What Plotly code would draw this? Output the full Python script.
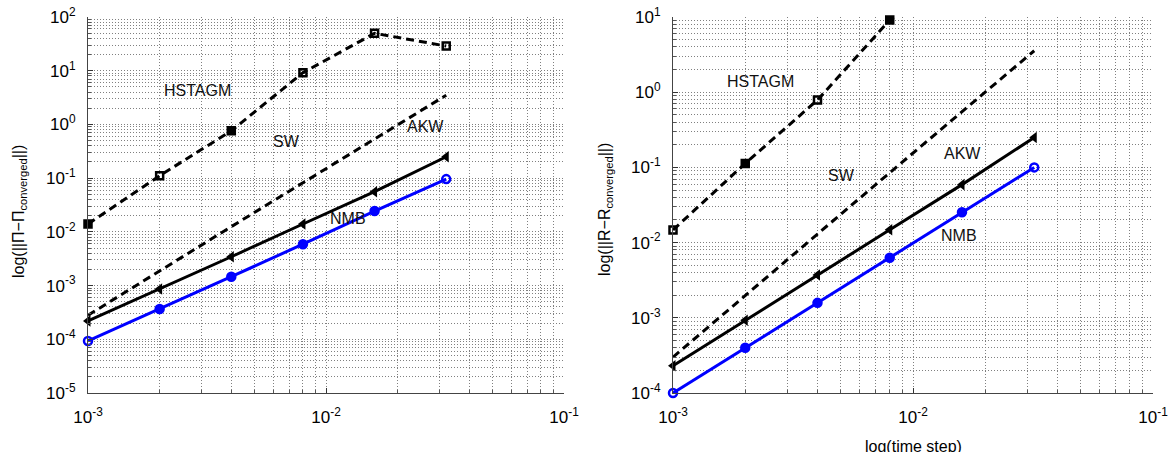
import numpy as np
import plotly.graph_objects as go

# ---------------- data ----------------
time_step = [0.001, 0.002, 0.004, 0.008, 0.016, 0.032]

hstagm = [0.014, 0.111, 0.76, 9.2, 49.7, 28.8]
sw = [2.8e-4, 1.9e-3, 1.25e-2, 8.2e-2, 0.53, 3.5]
akw_pi = [2.2e-4, 8.6e-4, 3.44e-3, 0.014, 0.056, 0.25]
nmb_pi = [9.3e-5, 3.65e-4, 1.46e-3, 5.9e-3, 0.0244, 0.096]

hstagm_r = [0.0147, 0.113, 0.787, 9.1, 49.7, 28.8]
sw_r = [3.0e-4, 1.95e-3, 1.3e-2, 8.5e-2, 0.55, 3.56]
akw_r = [2.3e-4, 9.3e-4, 3.7e-3, 0.0148, 0.059, 0.25]
nmb_r = [1.0e-4, 4.0e-4, 1.58e-3, 6.3e-3, 0.0253, 0.10]

series_names = ["HSTAGM", "SW", "AKW", "NMB"]

x_exponents = [-3, -2, -1]
y_exponents_left = [-5, -4, -3, -2, -1, 0, 1, 2]
y_exponents_right = [-4, -3, -2, -1, 0, 1]

# label positions (log10 data coordinates)
labels_left = {"HSTAGM": (-2.538, 0.641), "SW": (-2.164, -0.309),
               "AKW": (-1.584, -0.03), "NMB": (-1.908, -1.743)}
labels_right = {"HSTAGM": (-2.6375, 0.149), "SW": (-2.296, -1.101),
                "AKW": (-1.792, -0.809), "NMB": (-1.808, -1.899)}

# ---------------- styling ----------------
FONT = "Liberation Sans, Arial, Helvetica, sans-serif"
W, H = 1175, 452
BLUE = "#0000ff"
DASH = "8px,5px"
GRIDC = "#808080"

sq_left = ["square", "square-open", "square", "square-open", "square-open", "square-open"]
sq_right = ["square-open", "square", "square-open", "square", "square", "square"]
circ_sym = ["circle-open", "circle", "circle", "circle", "circle", "circle-open"]

fig = go.Figure()

def add_panel(xa, ya, h, s, a, n, sq_sym):
    fig.add_trace(go.Scatter(x=time_step, y=h, xaxis=xa, yaxis=ya, mode="lines+markers",
                             line=dict(color="black", width=3, dash=DASH),
                             marker=dict(symbol=sq_sym, size=7, color="black",
                                         line=dict(color="black", width=2.5)),
                             cliponaxis=False, showlegend=False))
    fig.add_trace(go.Scatter(x=time_step, y=s, xaxis=xa, yaxis=ya, mode="lines",
                             line=dict(color="black", width=3, dash=DASH),
                             showlegend=False))
    fig.add_trace(go.Scatter(x=time_step, y=a, xaxis=xa, yaxis=ya, mode="lines+markers",
                             line=dict(color="black", width=3),
                             marker=dict(symbol="triangle-left", size=10, color="black"),
                             cliponaxis=False, showlegend=False))
    fig.add_trace(go.Scatter(x=time_step, y=n, xaxis=xa, yaxis=ya, mode="lines+markers",
                             line=dict(color=BLUE, width=3),
                             marker=dict(symbol=circ_sym, size=8, color=BLUE,
                                         line=dict(color=BLUE, width=2.5)),
                             cliponaxis=False, showlegend=False))

add_panel("x", "y", hstagm, sw, akw_pi, nmb_pi, sq_left)
add_panel("x2", "y2", hstagm_r, sw_r, akw_r, nmb_r, sq_right)

def sup_text(e):
    return "10<sup>%d</sup>" % e

def minor_vals(lo, hi):
    vals = []
    for e in range(lo, hi):
        for m in range(2, 10):
            vals.append(m * 10.0 ** e)
    return vals

def axis_common(exps, domain, lo, hi):
    return dict(type="log", range=[lo, hi], domain=domain, automargin=False,
                tickmode="array", tickvals=[10.0 ** e for e in exps],
                ticktext=[sup_text(e) for e in exps],
                ticks="inside", ticklen=5, tickcolor="#333",
                showline=True, linecolor="#444", linewidth=1,
                tickfont=dict(family=FONT, size=17, color="black"),
                zeroline=False,
                showgrid=True, gridcolor=GRIDC, griddash="1px,2px", gridwidth=1,
                minor=dict(tickmode="array", tickvals=minor_vals(lo, hi),
                           ticks="inside", ticklen=3, tickcolor="#555",
                           showgrid=True, gridcolor=GRIDC, griddash="1px,2px", gridwidth=1))

ydom = [1 - 393 / H, 1 - 17 / H]
fig.update_layout(
    xaxis=dict(axis_common(x_exponents, [88 / W, 564 / W], -3, -1),
               anchor="y", ticklabelstandoff=9),
    yaxis=dict(axis_common(y_exponents_left, ydom, -5, 2),
               anchor="x", ticklabelstandoff=8),
    xaxis2=dict(axis_common(x_exponents, [673 / W, 1153 / W], -3, -1),
                anchor="y2", ticklabelstandoff=9),
    yaxis2=dict(axis_common(y_exponents_right, ydom, -4, 1),
                anchor="x2", ticklabelstandoff=8),
    width=W, height=H,
    margin=dict(l=0, r=0, t=0, b=0, pad=0, autoexpand=False),
    paper_bgcolor="white", plot_bgcolor="white",
    font=dict(family=FONT, size=15, color="black"),
    showlegend=False,
)

ann = []
for name in series_names:
    lx, ly = labels_left[name]
    ann.append(dict(x=lx, y=ly, xref="x", yref="y", text=name, showarrow=False,
                    font=dict(family=FONT, size=16, color="#111")))
    rx, ry = labels_right[name]
    ann.append(dict(x=rx, y=ry, xref="x2", yref="y2", text=name, showarrow=False,
                    font=dict(family=FONT, size=16, color="#111")))

ann.append(dict(x=19 / W, y=1 - 212 / H, xref="paper", yref="paper",
                xanchor="center", yanchor="middle",
                text="log(||Π−Π<sub>converged</sub>||)", textangle=-90, showarrow=False,
                font=dict(family=FONT, size=16, color="black")))
ann.append(dict(x=606 / W, y=1 - 210 / H, xref="paper", yref="paper",
                xanchor="center", yanchor="middle",
                text="log(||R−R<sub>converged</sub>||)", textangle=-90, showarrow=False,
                font=dict(family=FONT, size=16, color="black")))
ann.append(dict(x=913 / W, y=1 - 446 / H, xref="paper", yref="paper",
                xanchor="center", yanchor="middle",
                text="log(time step)", showarrow=False,
                font=dict(family=FONT, size=16, color="black")))
fig.update_layout(annotations=ann)

fig.write_html("out.html")
